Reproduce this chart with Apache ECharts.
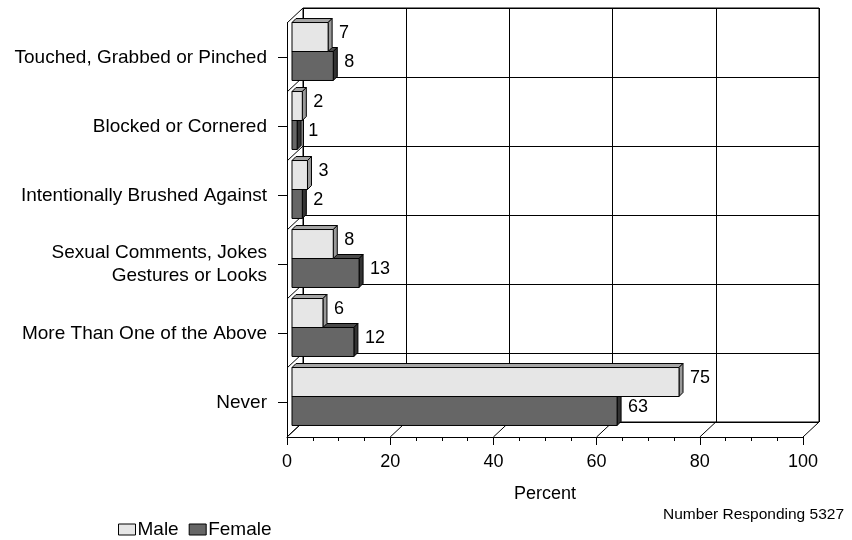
<!DOCTYPE html>
<html>
<head>
<meta charset="utf-8">
<script src="https://cdn.jsdelivr.net/npm/echarts@6/dist/echarts.min.js"></script>
<style>html,body{margin:0;padding:0;background:#fff;}#c{width:852px;height:540px;}</style>
</head>
<body>
<div id="c"></div>
<script>
const categories = ['Touched, Grabbed or Pinched', 'Blocked or Cornered', 'Intentionally Brushed Against', 'Sexual Comments, Jokes\nGestures or Looks', 'More Than One of the Above', 'Never'];
const maleValues = [7, 2, 3, 8, 6, 75];
const femaleValues = [8, 1, 2, 13, 12, 63];
const xTicks = [0, 20, 40, 60, 80, 100];
const seriesNames = ['Male', 'Female'];
const note = 'Number Responding 5327';
const axisName = 'Percent';

const FONT = '"Liberation Sans", Arial, Helvetica, sans-serif';
const DX = 16, DY = -15;      // depth offset of back wall
const BX = 5, BY = -6;        // bar front-face offset
const BD = 4;                 // bar depth
const BAR_FRAC = 0.42;

function frameRender(params, api) {
  const band = api.size([0, 1])[1];
  const children = [];
  const top = api.coord([0, 0])[1] - band / 2;
  const left = api.coord([0, 0])[0];
  for (let i = 0; i <= categories.length; i++) {
    const yb = top + i * band;
    children.push({type: 'line', shape: {x1: left, y1: yb, x2: left + DX, y2: yb + DY},
      style: {stroke: '#000', lineWidth: 1}});
  }
  const bottom = top + categories.length * band;
  xTicks.forEach(t => {
    const xf = api.coord([t, 0])[0];
    children.push({type: 'line', shape: {x1: xf, y1: bottom, x2: xf + DX, y2: bottom + DY},
      style: {stroke: '#000', lineWidth: 1}});
  });
  return {type: 'group', children};
}

function barRender(isMale, front, topC, side) {
  return function (params, api) {
    const v = api.value(0), idx = api.value(1);
    const p0 = api.coord([0, idx]);
    const p1 = api.coord([v, idx]);
    const band = api.size([0, 1])[1];
    const t = band * BAR_FRAC;
    const cy = p0[1] + BY;
    const y0 = isMale ? cy - t : cy;
    const y1 = isMale ? cy : cy + t;
    const x0 = p0[0] + BX, x1 = p1[0] + BX;
    const st = {stroke: '#000', lineWidth: 1, lineJoin: 'miter'};
    return {type: 'group', children: [
      {type: 'polygon', shape: {points: [[x0, y0], [x0 + BD, y0 - BD], [x1 + BD, y0 - BD], [x1, y0]]},
        style: Object.assign({fill: topC}, st)},
      {type: 'polygon', shape: {points: [[x1, y0], [x1 + BD, y0 - BD], [x1 + BD, y1 - BD], [x1, y1]]},
        style: Object.assign({fill: side}, st)},
      {type: 'rect', shape: {x: x0, y: y0, width: x1 - x0, height: y1 - y0},
        style: Object.assign({fill: front}, st)},
      {type: 'text', style: {text: String(v), x: x1 + 11, y: (y0 + y1) / 2 - 3.5,
        align: 'left', verticalAlign: 'middle', fontSize: 18, fontFamily: FONT, fill: '#000'}}
    ]};
  };
}

const chart = echarts.init(document.getElementById('c'), null, {renderer: 'canvas'});
chart.setOption({
  animation: false,
  backgroundColor: '#fff',
  textStyle: {fontFamily: FONT, color: '#000'},
  title: {text: note, right: 3, top: 502,
    textStyle: {fontSize: 15.5, fontWeight: 'normal', color: '#000', fontFamily: FONT}},
  legend: {data: seriesNames, left: 113, top: 515, itemWidth: 17, itemHeight: 11, itemGap: 10,
    icon: 'rect', textStyle: {fontSize: 19, color: '#000', fontFamily: FONT, padding: [0, 0, 0, -3]},
    itemStyle: {borderColor: '#000', borderWidth: 1}},
  grid: [
    {left: 287, right: 49, top: 23, bottom: 103},
    {left: 287 + DX, right: 49 - DX, top: 23 + DY, bottom: 103 - DY, show: true, borderColor: '#000', borderWidth: 1, backgroundColor: 'transparent'}
  ],
  xAxis: [
    {gridIndex: 0, type: 'value', min: 0, max: 100, interval: 20,
      axisLine: {show: true, lineStyle: {color: '#000', width: 1}},
      axisTick: {show: true, length: 8, lineStyle: {color: '#000'}},
      minorTick: {show: true, splitNumber: 4, length: 4, lineStyle: {color: '#000'}},
      splitLine: {show: false},
      axisLabel: {color: '#000', fontSize: 18, margin: 16, fontFamily: FONT},
      name: axisName, nameLocation: 'middle', nameGap: 48,
      nameTextStyle: {color: '#000', fontSize: 18, fontFamily: FONT}},
    {gridIndex: 1, type: 'value', min: 0, max: 100, interval: 20,
      axisLine: {show: false}, axisTick: {show: false}, axisLabel: {show: false},
      splitLine: {show: true, lineStyle: {color: '#000', width: 1}}}
  ],
  yAxis: [
    {gridIndex: 0, type: 'category', data: categories, inverse: true,
      axisLine: {show: true, onZero: false, lineStyle: {color: '#000', width: 1}},
      axisTick: {show: true, alignWithLabel: true, length: 9, lineStyle: {color: '#000'}},
      axisLabel: {color: '#000', fontSize: 19, margin: 20, lineHeight: 23, fontFamily: FONT, align: 'right'},
      splitLine: {show: false}},
    {gridIndex: 1, type: 'category', data: categories, inverse: true,
      axisLine: {show: false}, axisTick: {show: false}, axisLabel: {show: false},
      splitLine: {show: true, lineStyle: {color: '#000', width: 1}}}
  ],
  series: [
    {type: 'custom', name: 'frame', xAxisIndex: 0, yAxisIndex: 0, z: 1, silent: true,
      data: [[0, 0]], renderItem: frameRender, clip: false},
    {type: 'custom', name: seriesNames[1], xAxisIndex: 0, yAxisIndex: 0, z: 2,
      itemStyle: {color: '#666666', borderColor: '#000', borderWidth: 1},
      data: femaleValues.map((v, i) => [v, i]), encode: {x: 0, y: 1},
      renderItem: barRender(false, '#666666', '#4a4a4a', '#333333'), clip: false},
    {type: 'custom', name: seriesNames[0], xAxisIndex: 0, yAxisIndex: 0, z: 3,
      itemStyle: {color: '#e6e6e6', borderColor: '#000', borderWidth: 1},
      data: maleValues.map((v, i) => [v, i]), encode: {x: 0, y: 1},
      renderItem: barRender(true, '#e6e6e6', '#a6a6a6', '#999999'), clip: false}
  ]
});
</script>
</body>
</html>
